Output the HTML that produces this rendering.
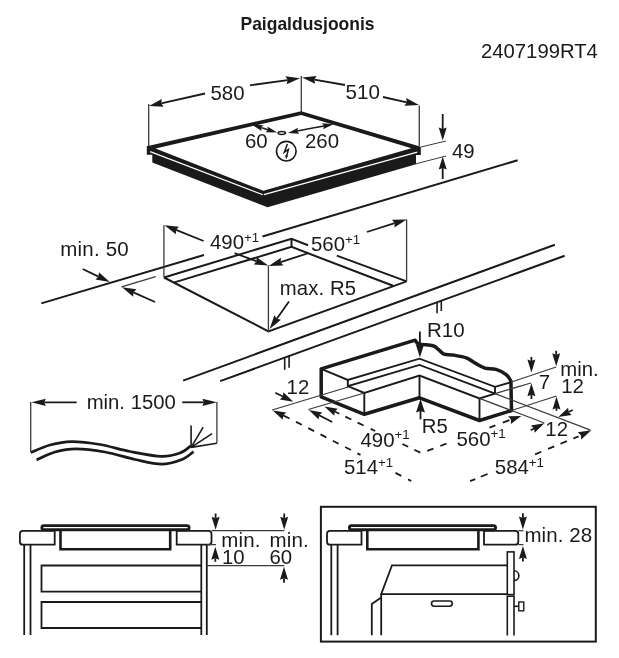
<!DOCTYPE html>
<html><head><meta charset="utf-8"><style>
html,body{margin:0;padding:0;background:#fff;}
svg{display:block;will-change:transform;}
text{font-family:"Liberation Sans",sans-serif;fill:#1a1a1a;}
</style></head><body>
<svg width="619" height="658" viewBox="0 0 619 658">
<text x="240.5" y="30" font-size="18.4" text-anchor="start" font-weight="bold" fill="#000" textLength="134" lengthAdjust="spacingAndGlyphs">Paigaldusjoonis</text>
<text x="481" y="58" font-size="20.3" text-anchor="start" font-weight="normal" >2407199RT4</text>
<line x1="148.70" y1="104.00" x2="148.70" y2="147.00" stroke="#3a3a3a" stroke-width="1.3" />
<line x1="301.30" y1="76.00" x2="301.30" y2="113.00" stroke="#3a3a3a" stroke-width="1.3" />
<line x1="419.30" y1="105.50" x2="419.30" y2="146.00" stroke="#3a3a3a" stroke-width="1.3" />
<polygon points="149.00,106.00 161.79,99.05 161.20,103.28 163.54,106.85" fill="#1a1a1a"/>
<line x1="205.00" y1="93.50" x2="161.20" y2="103.28" stroke="#1a1a1a" stroke-width="1.8" />
<polygon points="300.00,78.30 286.69,84.20 287.62,80.03 285.58,76.28" fill="#1a1a1a"/>
<line x1="250.00" y1="85.30" x2="287.62" y2="80.03" stroke="#1a1a1a" stroke-width="1.8" />
<text x="210.5" y="99.5" font-size="20.4" text-anchor="start" font-weight="normal" >580</text>
<polygon points="302.00,77.50 316.48,75.97 314.31,79.65 315.10,83.85" fill="#1a1a1a"/>
<line x1="345.00" y1="85.00" x2="314.31" y2="79.65" stroke="#1a1a1a" stroke-width="1.8" />
<polygon points="419.00,105.00 404.47,105.87 406.80,102.29 406.20,98.06" fill="#1a1a1a"/>
<line x1="383.00" y1="97.00" x2="406.80" y2="102.29" stroke="#1a1a1a" stroke-width="1.8" />
<text x="345.5" y="99.3" font-size="20.6" text-anchor="start" font-weight="normal" >510</text>
<polygon points="146.80,146.20 301.20,111.30 420.80,146.80 420.80,155.10 416.00,155.10 416.00,164.30 267.50,207.30 152.30,162.60 152.30,154.70 146.80,154.70" fill="#1a1a1a" stroke="#1a1a1a" stroke-width="0" stroke-linejoin="miter" />
<polygon points="155.50,148.40 301.20,114.90 411.40,148.30 263.40,190.80" fill="#fff" stroke="#1a1a1a" stroke-width="0" stroke-linejoin="miter" />
<polyline points="150.20,151.60 262.90,194.70" fill="none" stroke="#fff" stroke-width="1.2" stroke-linejoin="miter" />
<polyline points="263.90,194.70 417.30,152.20" fill="none" stroke="#fff" stroke-width="1.2" stroke-linejoin="miter" />
<polygon points="252.00,124.80 263.40,125.17 261.08,127.60 261.63,130.91" fill="#1a1a1a"/>
<line x1="264.00" y1="128.50" x2="261.08" y2="127.60" stroke="#1a1a1a" stroke-width="1.5" />
<polygon points="277.10,132.60 265.71,132.18 268.03,129.76 267.50,126.45" fill="#1a1a1a"/>
<line x1="264.00" y1="128.50" x2="268.03" y2="129.76" stroke="#1a1a1a" stroke-width="1.5" />
<ellipse cx="281.8" cy="133" rx="3.7" ry="1.4" fill="none" stroke="#1a1a1a" stroke-width="1.5"/>
<polygon points="287.90,133.00 298.08,127.87 297.21,131.10 299.28,133.74" fill="#1a1a1a"/>
<line x1="310.00" y1="128.50" x2="297.21" y2="131.10" stroke="#1a1a1a" stroke-width="1.5" />
<polygon points="333.40,124.20 323.12,129.14 324.06,125.92 322.04,123.24" fill="#1a1a1a"/>
<line x1="310.00" y1="128.50" x2="324.06" y2="125.92" stroke="#1a1a1a" stroke-width="1.5" />
<text x="245" y="148.4" font-size="20.4" text-anchor="start" font-weight="normal" >60</text>
<text x="305" y="148.4" font-size="20.4" text-anchor="start" font-weight="normal" >260</text>
<circle cx="286.3" cy="151.2" r="9.8" fill="none" stroke="#1a1a1a" stroke-width="1.6"/>
<polyline points="287.40,144.00 284.30,152.20 288.40,149.40 286.70,156.00" fill="none" stroke="#1a1a1a" stroke-width="1.5" stroke-linejoin="miter" />
<polygon points="285.0,155.3 288.0,155.8 286.3,159.2" fill="#1a1a1a"/>
<line x1="421.00" y1="147.00" x2="446.00" y2="141.00" stroke="#3a3a3a" stroke-width="1.0" />
<line x1="416.00" y1="163.80" x2="446.00" y2="156.00" stroke="#3a3a3a" stroke-width="1.0" />
<polygon points="442.70,140.50 438.70,127.50 442.70,129.00 446.70,127.50" fill="#1a1a1a"/>
<line x1="442.70" y1="114.00" x2="442.70" y2="129.00" stroke="#1a1a1a" stroke-width="1.8" />
<polygon points="442.70,156.50 446.70,169.50 442.70,168.00 438.70,169.50" fill="#1a1a1a"/>
<line x1="442.70" y1="179.00" x2="442.70" y2="168.00" stroke="#1a1a1a" stroke-width="1.8" />
<text x="452" y="157.6" font-size="20.4" text-anchor="start" font-weight="normal" >49</text>
<line x1="41.30" y1="303.40" x2="204.00" y2="255.00" stroke="#1a1a1a" stroke-width="2.0" />
<line x1="262.50" y1="236.50" x2="517.70" y2="160.20" stroke="#1a1a1a" stroke-width="2.0" />
<line x1="183.10" y1="380.60" x2="554.90" y2="244.70" stroke="#1a1a1a" stroke-width="2.0" />
<line x1="220.20" y1="381.10" x2="564.70" y2="255.80" stroke="#1a1a1a" stroke-width="2.0" />
<text x="60.3" y="255.6" font-size="20.5" text-anchor="start" font-weight="normal" letter-spacing="0.2">min. 50</text>
<polygon points="109.80,282.00 95.45,279.55 98.53,276.59 98.91,272.34" fill="#1a1a1a"/>
<line x1="82.70" y1="269.00" x2="98.53" y2="276.59" stroke="#1a1a1a" stroke-width="1.8" />
<polygon points="122.00,287.30 136.42,289.34 133.42,292.39 133.16,296.65" fill="#1a1a1a"/>
<line x1="155.00" y1="302.00" x2="133.42" y2="292.39" stroke="#1a1a1a" stroke-width="1.8" />
<line x1="121.50" y1="286.80" x2="155.70" y2="276.70" stroke="#3a3a3a" stroke-width="1.25" />
<polyline points="164.00,277.50 291.50,238.70 308.10,245.20" fill="none" stroke="#1a1a1a" stroke-width="2.0" stroke-linejoin="miter" />
<line x1="336.80" y1="255.60" x2="406.60" y2="281.40" stroke="#1a1a1a" stroke-width="2.0" />
<polyline points="174.40,282.40 291.50,246.90 393.00,285.80" fill="none" stroke="#1a1a1a" stroke-width="2.0" stroke-linejoin="miter" />
<line x1="291.50" y1="238.70" x2="291.50" y2="246.90" stroke="#1a1a1a" stroke-width="2.0" />
<polyline points="164.00,277.50 268.40,331.40 406.60,281.40" fill="none" stroke="#1a1a1a" stroke-width="2.0" stroke-linejoin="miter" />
<line x1="163.90" y1="225.30" x2="163.90" y2="277.50" stroke="#3a3a3a" stroke-width="1.3" />
<line x1="406.60" y1="219.40" x2="406.60" y2="281.40" stroke="#3a3a3a" stroke-width="1.3" />
<line x1="268.40" y1="265.40" x2="268.40" y2="331.40" stroke="#3a3a3a" stroke-width="1.3" />
<polygon points="164.40,225.30 178.88,226.79 176.00,229.95 175.91,234.22" fill="#1a1a1a"/>
<line x1="203.60" y1="241.00" x2="176.00" y2="229.95" stroke="#1a1a1a" stroke-width="1.8" />
<polygon points="268.30,265.40 253.77,264.41 256.54,261.16 256.49,256.88" fill="#1a1a1a"/>
<line x1="234.50" y1="253.20" x2="256.54" y2="261.16" stroke="#1a1a1a" stroke-width="1.8" />
<text x="210" y="249.3" font-size="20.4">490<tspan font-size="13.3" dy="-7.3">+1</tspan></text>
<polygon points="268.80,266.00 280.88,257.87 280.69,262.14 283.35,265.48" fill="#1a1a1a"/>
<line x1="308.80" y1="253.00" x2="280.69" y2="262.14" stroke="#1a1a1a" stroke-width="1.8" />
<polygon points="406.60,219.40 394.47,227.45 394.69,223.18 392.05,219.82" fill="#1a1a1a"/>
<line x1="366.90" y1="232.00" x2="394.69" y2="223.18" stroke="#1a1a1a" stroke-width="1.8" />
<text x="311" y="251.4" font-size="20.4">560<tspan font-size="13.3" dy="-7.3">+1</tspan></text>
<text x="279.8" y="294.8" font-size="20.3" text-anchor="start" font-weight="normal" letter-spacing="0.1">max. R5</text>
<polygon points="269.60,329.00 274.40,315.25 276.81,318.79 280.94,319.87" fill="#1a1a1a"/>
<line x1="289.00" y1="301.50" x2="276.81" y2="318.79" stroke="#1a1a1a" stroke-width="1.8" />
<line x1="284.70" y1="357.00" x2="284.70" y2="369.80" stroke="#1a1a1a" stroke-width="1.6" />
<line x1="289.10" y1="355.50" x2="289.10" y2="367.80" stroke="#1a1a1a" stroke-width="1.6" />
<line x1="437.10" y1="302.00" x2="437.10" y2="313.20" stroke="#1a1a1a" stroke-width="1.6" />
<line x1="441.30" y1="300.50" x2="441.30" y2="311.00" stroke="#1a1a1a" stroke-width="1.6" />
<line x1="30.70" y1="402.00" x2="30.70" y2="452.20" stroke="#3a3a3a" stroke-width="1.3" />
<polygon points="31.30,402.30 45.80,398.65 44.30,402.30 45.80,405.95" fill="#1a1a1a"/>
<line x1="76.70" y1="402.30" x2="44.30" y2="402.30" stroke="#1a1a1a" stroke-width="1.8" />
<polygon points="216.90,402.30 202.40,405.95 203.90,402.30 202.40,398.65" fill="#1a1a1a"/>
<line x1="182.20" y1="402.30" x2="203.90" y2="402.30" stroke="#1a1a1a" stroke-width="1.8" />
<text x="86.7" y="409.4" font-size="20.3" text-anchor="start" font-weight="normal" >min. 1500</text>
<line x1="216.90" y1="402.00" x2="216.90" y2="443.30" stroke="#3a3a3a" stroke-width="1.3" />
<path d="M30.80,452.60 C34.00,451.33 43.22,446.83 50.00,445.00 C56.78,443.17 63.17,441.68 71.50,441.60 C79.83,441.52 90.25,442.85 100.00,444.50 C109.75,446.15 119.73,449.52 130.00,451.50 C140.27,453.48 153.27,456.15 161.60,456.40 C169.93,456.65 175.15,454.75 180.00,453.00 C184.85,451.25 188.92,447.08 190.70,445.90" fill="none" stroke="#1a1a1a" stroke-width="2.7" />
<path d="M36.60,459.90 C39.67,458.58 48.45,453.85 55.00,452.00 C61.55,450.15 67.57,448.80 75.90,448.80 C84.23,448.80 95.15,450.22 105.00,452.00 C114.85,453.78 125.57,457.47 135.00,459.50 C144.43,461.53 153.77,464.20 161.60,464.20 C169.43,464.20 176.67,461.58 182.00,459.50 C187.33,457.42 191.67,453.00 193.60,451.70" fill="none" stroke="#1a1a1a" stroke-width="2.7" />
<line x1="191.10" y1="447.40" x2="191.10" y2="425.50" stroke="#1a1a1a" stroke-width="1.6" />
<line x1="191.10" y1="447.40" x2="203.20" y2="427.20" stroke="#1a1a1a" stroke-width="1.6" />
<line x1="191.10" y1="447.40" x2="212.10" y2="433.60" stroke="#1a1a1a" stroke-width="1.6" />
<line x1="191.10" y1="447.40" x2="216.90" y2="443.30" stroke="#1a1a1a" stroke-width="1.6" />
<path d="M321.2,368.8 L415.2,340.2 C415.82,340.82 415.95,342.97 418.90,343.90 C421.85,344.83 429.65,344.87 432.90,345.80 C436.15,346.73 436.55,348.12 438.40,349.50 C440.25,350.88 441.52,353.17 444.00,354.10 C446.48,355.03 449.58,354.47 453.30,355.10 C457.02,355.73 462.58,356.52 466.30,357.90 C470.02,359.28 472.50,361.70 475.60,363.40 C478.70,365.10 481.50,367.10 484.90,368.10 C488.30,369.10 492.45,368.32 496.00,369.40 C499.55,370.48 503.72,372.67 506.20,374.60 C508.68,376.53 510.12,379.93 510.90,381.00 L511.5,410.5 L479.5,420.5 L419.5,397.8 L364.3,414.3 L321.2,396.9 Z" fill="none" stroke="#1a1a1a" stroke-width="3.5" stroke-linejoin="round"/>
<polyline points="321.20,368.80 347.80,380.00 419.50,358.70 495.00,386.80 511.50,382.00" fill="none" stroke="#1a1a1a" stroke-width="1.9" stroke-linejoin="miter" />
<polyline points="347.80,380.00 347.80,386.20 419.50,364.90 495.00,393.60" fill="none" stroke="#1a1a1a" stroke-width="1.9" stroke-linejoin="miter" />
<line x1="495.00" y1="393.60" x2="590.50" y2="430.20" stroke="#3a3a3a" stroke-width="1.25" />
<line x1="495.00" y1="386.80" x2="495.00" y2="393.60" stroke="#1a1a1a" stroke-width="1.9" />
<polyline points="347.80,386.20 364.30,393.00 419.50,375.50 479.50,398.40 495.00,393.60" fill="none" stroke="#1a1a1a" stroke-width="1.9" stroke-linejoin="miter" />
<line x1="364.30" y1="393.00" x2="364.30" y2="414.30" stroke="#1a1a1a" stroke-width="1.9" />
<line x1="419.50" y1="375.50" x2="419.50" y2="397.80" stroke="#1a1a1a" stroke-width="1.9" />
<line x1="479.50" y1="398.40" x2="479.50" y2="420.50" stroke="#1a1a1a" stroke-width="1.9" />
<polygon points="419.90,357.50 415.65,344.00 419.90,345.50 424.15,344.00" fill="#1a1a1a"/>
<line x1="419.90" y1="331.50" x2="419.90" y2="345.50" stroke="#1a1a1a" stroke-width="1.8" />
<text x="427" y="337.1" font-size="20.5" text-anchor="start" font-weight="normal" >R10</text>
<polygon points="420.50,399.00 425.00,412.50 420.50,411.00 416.00,412.50" fill="#1a1a1a"/>
<line x1="420.50" y1="419.40" x2="420.50" y2="411.00" stroke="#1a1a1a" stroke-width="1.8" />
<text x="421.8" y="433" font-size="20.3" text-anchor="start" font-weight="normal" >R5</text>
<line x1="272.10" y1="410.00" x2="348.20" y2="387.00" stroke="#3a3a3a" stroke-width="1.25" />
<line x1="308.30" y1="409.50" x2="364.30" y2="393.00" stroke="#3a3a3a" stroke-width="1.25" />
<polygon points="293.20,401.70 279.79,399.43 282.93,396.53 283.38,392.29" fill="#1a1a1a"/>
<line x1="275.30" y1="392.70" x2="282.93" y2="396.53" stroke="#1a1a1a" stroke-width="1.8" />
<polygon points="272.80,410.40 286.24,412.47 283.15,415.42 282.75,419.67" fill="#1a1a1a"/>
<line x1="289.50" y1="418.50" x2="283.15" y2="415.42" stroke="#1a1a1a" stroke-width="1.8" />
<polygon points="308.90,410.00 322.29,412.40 319.12,415.27 318.63,419.51" fill="#1a1a1a"/>
<line x1="332.20" y1="422.00" x2="319.12" y2="415.27" stroke="#1a1a1a" stroke-width="1.8" />
<polygon points="324.40,406.50 337.83,408.63 334.73,411.56 334.31,415.81" fill="#1a1a1a"/>
<line x1="339.30" y1="413.80" x2="334.73" y2="411.56" stroke="#1a1a1a" stroke-width="1.8" />
<text x="286.6" y="393.6" font-size="20.4" text-anchor="start" font-weight="normal" >12</text>
<line x1="511.50" y1="382.00" x2="556.20" y2="367.00" stroke="#3a3a3a" stroke-width="1.25" />
<line x1="495.00" y1="393.60" x2="531.00" y2="383.00" stroke="#3a3a3a" stroke-width="1.25" />
<line x1="511.50" y1="410.50" x2="556.50" y2="396.00" stroke="#3a3a3a" stroke-width="1.25" />
<line x1="479.50" y1="398.40" x2="544.40" y2="423.00" stroke="#3a3a3a" stroke-width="1.25" />
<polygon points="531.40,372.50 527.40,359.50 531.40,361.00 535.40,359.50" fill="#1a1a1a"/>
<line x1="531.40" y1="356.90" x2="531.40" y2="361.00" stroke="#1a1a1a" stroke-width="1.8" />
<polygon points="531.40,383.30 535.40,396.30 531.40,394.80 527.40,396.30" fill="#1a1a1a"/>
<line x1="531.40" y1="399.00" x2="531.40" y2="394.80" stroke="#1a1a1a" stroke-width="1.8" />
<polygon points="556.20,366.30 552.20,353.30 556.20,354.80 560.20,353.30" fill="#1a1a1a"/>
<line x1="556.20" y1="350.80" x2="556.20" y2="354.80" stroke="#1a1a1a" stroke-width="1.8" />
<polygon points="556.50,396.50 560.50,409.50 556.50,408.00 552.50,409.50" fill="#1a1a1a"/>
<line x1="556.50" y1="410.80" x2="556.50" y2="408.00" stroke="#1a1a1a" stroke-width="1.8" />
<text x="538.8" y="389.4" font-size="20.4" text-anchor="start" font-weight="normal" >7</text>
<text x="560.3" y="375.6" font-size="20.3" text-anchor="start" font-weight="normal" >min.</text>
<text x="561.2" y="392.5" font-size="20.4" text-anchor="start" font-weight="normal" >12</text>
<polygon points="558.20,417.00 568.17,407.75 568.56,412.00 571.65,414.95" fill="#1a1a1a"/>
<line x1="572.70" y1="410.00" x2="568.56" y2="412.00" stroke="#1a1a1a" stroke-width="1.8" />
<polygon points="544.40,423.30 534.59,432.72 534.13,428.47 530.99,425.58" fill="#1a1a1a"/>
<line x1="530.70" y1="430.20" x2="534.13" y2="428.47" stroke="#1a1a1a" stroke-width="1.8" />
<text x="545.3" y="435.9" font-size="20.4" text-anchor="start" font-weight="normal" >12</text>
<line x1="345.30" y1="416.67" x2="351.30" y2="419.55" stroke="#1a1a1a" stroke-width="1.8" />
<line x1="357.60" y1="422.57" x2="363.60" y2="425.44" stroke="#1a1a1a" stroke-width="1.8" />
<line x1="370.70" y1="428.84" x2="375.20" y2="431.00" stroke="#1a1a1a" stroke-width="1.8" />
<line x1="402.40" y1="444.02" x2="408.20" y2="446.80" stroke="#1a1a1a" stroke-width="1.8" />
<line x1="414.30" y1="449.73" x2="420.30" y2="452.60" stroke="#1a1a1a" stroke-width="1.8" />
<line x1="427.30" y1="450.83" x2="433.40" y2="448.55" stroke="#1a1a1a" stroke-width="1.8" />
<line x1="440.30" y1="445.97" x2="446.40" y2="443.69" stroke="#1a1a1a" stroke-width="1.8" />
<line x1="489.40" y1="427.63" x2="495.40" y2="425.38" stroke="#1a1a1a" stroke-width="1.8" />
<line x1="502.80" y1="422.62" x2="509.50" y2="420.11" stroke="#1a1a1a" stroke-width="1.8" />
<polygon points="521.30,415.90 510.88,423.88 510.94,419.61 508.18,416.34" fill="#1a1a1a"/>
<text x="360.5" y="446.6" font-size="20.4">490<tspan font-size="13.3" dy="-7.3">+1</tspan></text>
<text x="456.5" y="445.6" font-size="20.4">560<tspan font-size="13.3" dy="-7.3">+1</tspan></text>
<line x1="296.00" y1="421.83" x2="301.80" y2="424.81" stroke="#1a1a1a" stroke-width="1.8" />
<line x1="308.30" y1="428.14" x2="314.10" y2="431.12" stroke="#1a1a1a" stroke-width="1.8" />
<line x1="320.50" y1="434.40" x2="326.30" y2="437.38" stroke="#1a1a1a" stroke-width="1.8" />
<line x1="332.80" y1="440.71" x2="338.60" y2="443.69" stroke="#1a1a1a" stroke-width="1.8" />
<line x1="345.10" y1="447.02" x2="350.90" y2="450.00" stroke="#1a1a1a" stroke-width="1.8" />
<line x1="357.40" y1="453.33" x2="360.50" y2="454.92" stroke="#1a1a1a" stroke-width="1.8" />
<line x1="395.50" y1="472.88" x2="401.30" y2="475.85" stroke="#1a1a1a" stroke-width="1.8" />
<line x1="408.10" y1="479.34" x2="411.20" y2="480.93" stroke="#1a1a1a" stroke-width="1.8" />
<line x1="573.30" y1="438.49" x2="578.60" y2="436.30" stroke="#1a1a1a" stroke-width="1.8" />
<line x1="560.50" y1="443.79" x2="566.80" y2="441.18" stroke="#1a1a1a" stroke-width="1.8" />
<line x1="548.10" y1="448.92" x2="554.30" y2="446.36" stroke="#1a1a1a" stroke-width="1.8" />
<line x1="535.10" y1="454.30" x2="541.30" y2="451.73" stroke="#1a1a1a" stroke-width="1.8" />
<line x1="480.80" y1="476.77" x2="487.60" y2="473.96" stroke="#1a1a1a" stroke-width="1.8" />
<line x1="470.10" y1="481.20" x2="475.20" y2="479.09" stroke="#1a1a1a" stroke-width="1.8" />
<polygon points="591.20,430.20 581.24,439.46 580.85,435.21 577.76,432.26" fill="#1a1a1a"/>
<text x="344" y="474.2" font-size="20.4">514<tspan font-size="13.3" dy="-7.3">+1</tspan></text>
<text x="494.8" y="474.3" font-size="20.4">584<tspan font-size="13.3" dy="-7.3">+1</tspan></text>
<path d="M54.7,530.9 L22.9,530.9 Q19.9,530.9 19.9,533.9 L19.9,541.7 Q19.9,544.7 22.9,544.7 L54.7,544.7 Z" fill="#fff" stroke="#1a1a1a" stroke-width="1.8" />
<path d="M176.7,530.9 L208.5,530.9 Q211.5,530.9 211.5,533.9 L211.5,541.7 Q211.5,544.7 208.5,544.7 L176.7,544.7 Z" fill="#fff" stroke="#1a1a1a" stroke-width="1.8" />
<rect x="40.4" y="524.3" width="150.1" height="6.9" rx="3.4" fill="#1a1a1a"/>
<line x1="43.40" y1="527.60" x2="187.50" y2="527.60" stroke="#fff" stroke-width="1.2" />
<polyline points="60.50,531.00 60.50,549.20 170.20,549.20 170.20,531.00" fill="none" stroke="#1a1a1a" stroke-width="2.6" stroke-linejoin="miter" />
<line x1="24.20" y1="545.00" x2="24.20" y2="635.00" stroke="#1a1a1a" stroke-width="1.8" />
<line x1="30.50" y1="545.00" x2="30.50" y2="635.00" stroke="#1a1a1a" stroke-width="1.8" />
<line x1="201.30" y1="545.00" x2="201.30" y2="635.00" stroke="#1a1a1a" stroke-width="1.8" />
<line x1="206.80" y1="545.00" x2="206.80" y2="635.00" stroke="#1a1a1a" stroke-width="1.8" />
<polyline points="201.30,565.50 41.50,565.50 41.50,591.70 201.30,591.70" fill="none" stroke="#1a1a1a" stroke-width="1.8" stroke-linejoin="miter" />
<polyline points="201.30,602.00 41.50,602.00 41.50,628.00 201.30,628.00" fill="none" stroke="#1a1a1a" stroke-width="1.8" stroke-linejoin="miter" />
<line x1="211.50" y1="530.60" x2="284.40" y2="530.60" stroke="#3a3a3a" stroke-width="1.25" />
<line x1="206.80" y1="565.60" x2="284.40" y2="565.60" stroke="#3a3a3a" stroke-width="1.25" />
<line x1="206.80" y1="544.60" x2="216.00" y2="544.60" stroke="#3a3a3a" stroke-width="1.25" />
<polygon points="215.60,529.80 211.60,516.80 215.60,518.30 219.60,516.80" fill="#1a1a1a"/>
<line x1="215.60" y1="513.50" x2="215.60" y2="518.30" stroke="#1a1a1a" stroke-width="1.8" />
<polygon points="215.30,546.80 219.30,559.80 215.30,558.30 211.30,559.80" fill="#1a1a1a"/>
<line x1="215.30" y1="561.80" x2="215.30" y2="558.30" stroke="#1a1a1a" stroke-width="1.8" />
<polygon points="284.20,529.80 280.20,516.80 284.20,518.30 288.20,516.80" fill="#1a1a1a"/>
<line x1="284.20" y1="513.50" x2="284.20" y2="518.30" stroke="#1a1a1a" stroke-width="1.8" />
<polygon points="284.00,566.70 288.00,579.70 284.00,578.20 280.00,579.70" fill="#1a1a1a"/>
<line x1="284.00" y1="582.80" x2="284.00" y2="578.20" stroke="#1a1a1a" stroke-width="1.8" />
<text x="221.3" y="546.5" font-size="20.5" text-anchor="start" font-weight="normal" letter-spacing="0.15">min.</text>
<text x="222" y="563.5" font-size="20.4" text-anchor="start" font-weight="normal" >10</text>
<text x="269.6" y="546.5" font-size="20.5" text-anchor="start" font-weight="normal" letter-spacing="0.15">min.</text>
<text x="269.4" y="563.5" font-size="20.4" text-anchor="start" font-weight="normal" >60</text>
<rect x="320.9" y="506.8" width="274.9" height="134.8" fill="none" stroke="#1a1a1a" stroke-width="2"/>
<path d="M361.5,530.9 L330,530.9 Q327,530.9 327,533.9 L327,541.7 Q327,544.7 330,544.7 L361.5,544.7 Z" fill="#fff" stroke="#1a1a1a" stroke-width="1.8" />
<path d="M484,530.9 L515.3,530.9 Q518.3,530.9 518.3,533.9 L518.3,541.7 Q518.3,544.7 515.3,544.7 L484,544.7 Z" fill="#fff" stroke="#1a1a1a" stroke-width="1.8" />
<rect x="348" y="524.3" width="149" height="6.9" rx="3.4" fill="#1a1a1a"/>
<line x1="351.00" y1="527.60" x2="494.00" y2="527.60" stroke="#fff" stroke-width="1.2" />
<polyline points="367.30,531.00 367.30,549.30 478.40,549.30 478.40,531.00" fill="none" stroke="#1a1a1a" stroke-width="2.6" stroke-linejoin="miter" />
<line x1="331.30" y1="545.00" x2="331.30" y2="635.20" stroke="#1a1a1a" stroke-width="1.8" />
<line x1="337.60" y1="545.00" x2="337.60" y2="635.20" stroke="#1a1a1a" stroke-width="1.8" />
<polygon points="522.90,529.60 518.90,516.60 522.90,518.10 526.90,516.60" fill="#1a1a1a"/>
<line x1="522.90" y1="513.20" x2="522.90" y2="518.10" stroke="#1a1a1a" stroke-width="1.8" />
<polygon points="522.90,546.00 526.90,559.00 522.90,557.50 518.90,559.00" fill="#1a1a1a"/>
<line x1="522.90" y1="561.40" x2="522.90" y2="557.50" stroke="#1a1a1a" stroke-width="1.8" />
<line x1="518.30" y1="544.60" x2="523.50" y2="544.60" stroke="#3a3a3a" stroke-width="1.25" />
<line x1="518.30" y1="530.70" x2="523.50" y2="530.70" stroke="#3a3a3a" stroke-width="1.25" />
<text x="524.4" y="542.1" font-size="20.5" text-anchor="start" font-weight="normal" letter-spacing="0.1">min. 28</text>
<polyline points="507.30,565.30 392.00,565.30 381.20,594.20 507.30,594.20" fill="none" stroke="#1a1a1a" stroke-width="1.8" stroke-linejoin="miter" />
<line x1="381.20" y1="594.20" x2="381.20" y2="635.20" stroke="#1a1a1a" stroke-width="1.8" />
<polyline points="381.20,597.40 371.80,604.00 371.80,635.20" fill="none" stroke="#1a1a1a" stroke-width="1.8" stroke-linejoin="miter" />
<rect x="431.5" y="601" width="20.8" height="5.2" rx="2.6" fill="none" stroke="#1a1a1a" stroke-width="1.6"/>
<rect x="507.3" y="551.9" width="6.7" height="42.7" fill="#fff" stroke="#1a1a1a" stroke-width="1.6"/>
<polyline points="507.30,635.40 507.30,596.30 514.00,596.30 514.00,635.40" fill="none" stroke="#1a1a1a" stroke-width="1.6" stroke-linejoin="miter" />
<path d="M514,570.8 A4.9,4.9 0 0 1 514,580.6" fill="none" stroke="#1a1a1a" stroke-width="1.6" />
<line x1="514.00" y1="606.30" x2="518.80" y2="606.30" stroke="#1a1a1a" stroke-width="1.6" />
<rect x="518.8" y="602" width="5" height="8.8" fill="none" stroke="#1a1a1a" stroke-width="1.4"/>
</svg>
</body></html>
